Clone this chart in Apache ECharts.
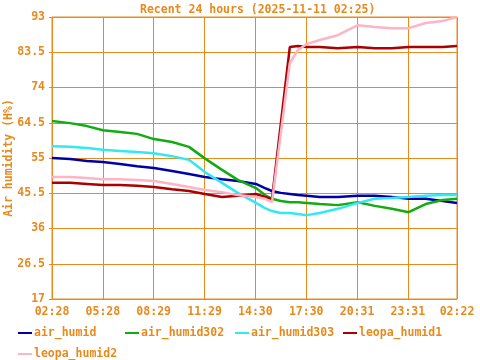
<!DOCTYPE html>
<html>
<head>
<meta charset="utf-8">
<script src="https://cdn.jsdelivr.net/npm/echarts@6/dist/echarts.min.js"></script>
<style>html,body{margin:0;padding:0;background:#fff}#c{width:480px;height:360px}</style>
</head>
<body>
<div id="c"></div>
<script>
// minutes since 02:28
const times = [0, 64, 124, 180, 241, 301, 361, 425, 485, 541, 602, 658, 722, 754, 779, 810, 842, 871, 902, 948, 1012, 1083, 1143, 1203, 1263, 1323, 1383, 1434];
const xTickLabels = ["02:28", "05:28", "08:29", "11:29", "14:30", "17:30", "20:31", "23:31", "02:22"];
const yTicks = [17, 26.5, 36, 45.5, 55, 64.5, 74, 83.5, 93];
const seriesNames = ["air_humid", "air_humid302", "air_humid303", "leopa_humid1", "leopa_humid2"];
const yAxisTitle = 'Air humidity (H%)';

const air_humid = [55.0, 54.7, 54.2, 53.9, 53.4, 52.8, 52.3, 51.5, 50.7, 49.9, 49.3, 48.8, 48.0, 46.9, 46.1, 45.6, 45.3, 45.0, 44.8, 44.5, 44.5, 44.8, 44.8, 44.5, 44.0, 44.0, 43.4, 42.9];
const air_humid302 = [65.0, 64.4, 63.6, 62.5, 62.0, 61.5, 60.1, 59.3, 58.0, 54.9, 51.8, 49.1, 46.9, 45.0, 44.0, 43.4, 43.1, 43.1, 42.9, 42.6, 42.3, 43.1, 42.1, 41.3, 40.4, 42.6, 43.7, 44.0];
const air_humid303 = [58.2, 58.0, 57.7, 57.2, 56.9, 56.6, 56.3, 55.5, 54.5, 51.2, 48.3, 45.6, 42.9, 41.5, 40.7, 40.2, 40.2, 39.9, 39.6, 40.2, 41.3, 42.9, 44.0, 44.2, 44.5, 44.8, 45.0, 45.0];
const leopa_humid1 = [48.3, 48.3, 48.0, 47.7, 47.7, 47.5, 47.2, 46.6, 46.1, 45.3, 44.5, 44.8, 45.3, 44.5, 44.0, null, 84.9, 85.2, 84.9, 84.9, 84.6, 84.9, 84.6, 84.6, 84.9, 84.9, 84.9, 85.2];
const leopa_humid2 = [49.9, 49.9, 49.6, 49.3, 49.3, 49.1, 48.8, 48.0, 47.2, 46.4, 45.8, 45.0, 44.5, 44.0, 43.1, null, 80.6, 84.1, 85.7, 86.8, 88.1, 90.8, 90.3, 90.0, 90.0, 91.4, 91.9, 93.0];

const values = [air_humid, air_humid302, air_humid303, leopa_humid1, leopa_humid2];
const colors = ['#0000a8', '#12ac12', '#33e8f0', '#aa0000', '#ffb4c4'];
const orange = '#e88a1c';
const font = 'DejaVu Sans Mono';

const xMin = times[0], xMax = times[times.length - 1];

const legendPos = [[18, 327], [125, 327], [235, 327], [343, 327], [18, 348]];

const chart = echarts.init(document.getElementById('c'), null, {renderer: 'canvas'});
chart.setOption({
  animation: false,
  backgroundColor: '#fff',
  title: {
    text: 'Recent 24 hours (2025-11-11 02:25)',
    left: 135, top: -1,
    textStyle: {color: orange, fontFamily: font, fontWeight: 'bold', fontSize: 11.5}
  },
  graphic: [{
    type: 'text', x: 9, y: 158, rotation: Math.PI / 2,
    style: {text: yAxisTitle, fill: orange, font: 'bold 11.5px "DejaVu Sans Mono"',
      textAlign: 'center', textVerticalAlign: 'middle'}
  }],
  legend: seriesNames.map((n, i) => ({
    data: [n],
    left: legendPos[i][0], top: legendPos[i][1],
    icon: 'rect', itemWidth: 14, itemHeight: 2,
    padding: 0,
    textStyle: {color: orange, fontFamily: font, fontWeight: 'bold', fontSize: 11.5, padding: [0, 0, 0, -3]}
  })),
  grid: {left: 52, right: 23, top: 17, bottom: 61, show: true, borderColor: orange, borderWidth: 1,
    containLabel: false, outerBoundsMode: 'none'},
  xAxis: {
    type: 'value', min: xMin, max: xMax, interval: 180,
    axisLine: {show: false},
    axisTick: {show: false},
    splitLine: {show: true, lineStyle: {color: orange, width: 1}},
    axisLabel: {
      color: orange, fontFamily: font, fontWeight: 'bold', fontSize: 11.5, margin: 7,
      showMaxLabel: true,
      formatter: v => v === xMax ? xTickLabels[xTickLabels.length - 1] : (xTickLabels[Math.round(v / 180)] || '')
    }
  },
  yAxis: {
    type: 'value', min: yTicks[0], max: yTicks[yTicks.length - 1], interval: 9.5,
    axisLine: {show: false},
    axisTick: {show: true, length: 3, lineStyle: {color: orange}},
    splitLine: {show: true, lineStyle: {color: orange, width: 1}},
    axisLabel: {color: orange, fontFamily: font, fontWeight: 'bold', fontSize: 11.5, margin: 7,
      formatter: v => String(v)}
  },
  series: seriesNames.map((n, i) => ({
    name: n, type: 'line', showSymbol: false, connectNulls: true,
    color: colors[i],
    lineStyle: {width: 2.5, color: colors[i]},
    data: times.map((t, j) => [t, values[i][j]])
  }))
});
</script>
</body>
</html>
